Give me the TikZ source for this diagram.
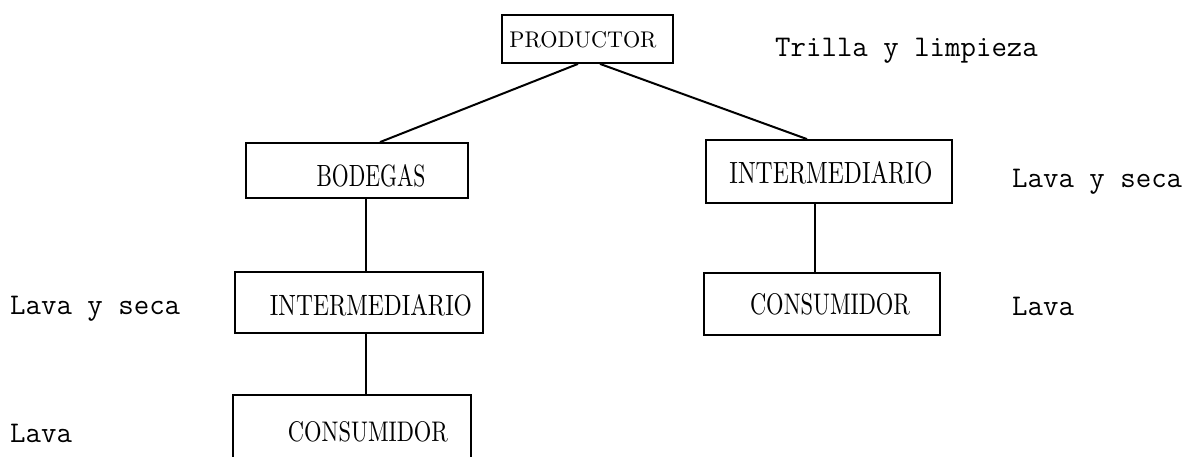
\documentclass[tikz,border=0pt]{standalone}
\usepackage{fontspec}
\usepackage{graphicx}
\tikzset{
  box/.style={draw=black, line width=1.8pt, inner sep=0pt, rectangle},
  boxtext/.style={inner sep=0pt, anchor=center, font=\rmfamily},
  lab/.style={inner sep=0pt, anchor=base west, font=\ttfamily\fontsize{30}{34}\selectfont},
  conn/.style={draw=black, line width=2pt}
}
\newcommand{\bt}[3]{\resizebox{#1pt}{#2pt}{#3}}
\begin{document}
\begin{tikzpicture}[x=1pt,y=-1pt]
\useasboundingbox[fill=white] (0,0) rectangle (1193,457);
% boxes
\node[box, minimum width=171pt, minimum height=48pt] (prod) at (587.5,39) {};
\node[box, minimum width=222pt, minimum height=55pt] (bod) at (357,170.5) {};
\node[box, minimum width=246pt, minimum height=63pt] (int2) at (829,171.5) {};
\node[box, minimum width=248pt, minimum height=61pt] (int1) at (359,302.5) {};
\node[box, minimum width=236pt, minimum height=62pt] (cons2) at (822,304) {};
\node[box, minimum width=238pt, minimum height=75pt] (cons1) at (352,432.5) {};
% box texts
\node[boxtext] (prodt) at (583,40) {\bt{147}{16}{PRODUCTOR}};
\node[boxtext] (bodt) at (371,176) {\bt{109}{22}{BODEGAS}};
\node[boxtext] (int2t) at (831,173) {\bt{203}{22}{INTERMEDIARIO}};
\node[boxtext] (int1t) at (371,305) {\bt{202}{21}{INTERMEDIARIO}};
\node[boxtext] (cons2t) at (830,304) {\bt{160}{21}{CONSUMIDOR}};
\node[boxtext] (cons1t) at (368,432) {\bt{160}{20}{CONSUMIDOR}};
% side labels
\node[lab] (l1) at (775,57) {Trilla y limpieza};
\node[lab] (l2) at (1012,187) {Lava y seca};
\node[lab] (l3) at (1012,315) {Lava};
\node[lab] (l4) at (10,314) {Lava y seca};
\node[lab] (l5) at (10,442) {Lava};
% connectors
\draw[conn] ([xshift=-9.5pt]prod.south) -- ([xshift=23pt]bod.north);
\draw[conn] ([xshift=12.5pt]prod.south) -- ([xshift=-22pt]int2.north);
\draw[conn, line width=1.6pt] ([xshift=9pt]bod.south) -- ([xshift=9pt]bod.south |- int1.north);
\draw[conn, line width=1.6pt] ([xshift=7pt]int1.south) -- ([xshift=7pt]int1.south |- cons1.north);
\draw[conn, line width=1.6pt] ([xshift=-14pt]int2.south) -- ([xshift=-14pt]int2.south |- cons2.north);
\end{tikzpicture}
\end{document}
